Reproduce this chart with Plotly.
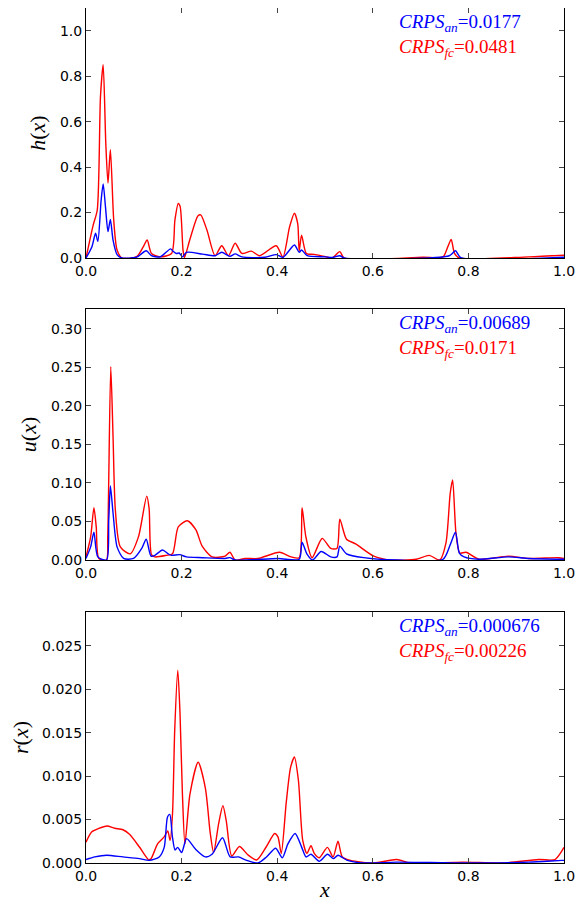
import plotly.graph_objects as go
from plotly.subplots import make_subplots

RED = "#ff0000"
BLUE = "#0000ff"

# ---- h(x) ----
h_fc_x = [0.0, 0.015, 0.0235, 0.0303, 0.0359, 0.0414, 0.046, 0.051, 0.058, 0.065, 0.075,
          0.106, 0.12, 0.128, 0.137, 0.155, 0.179, 0.186, 0.193, 0.197, 0.203, 0.206,
          0.217, 0.234, 0.24, 0.253, 0.27, 0.284, 0.298, 0.312, 0.326, 0.346, 0.363,
          0.398, 0.412, 0.426, 0.436, 0.443, 0.446, 0.451, 0.461, 0.477, 0.501, 0.515,
          0.531, 0.54, 0.705, 0.747, 0.757, 0.764, 0.771, 0.781, 0.926, 1.0]
h_fc_y = [0.0, 0.145, 0.21, 0.71, 0.85, 0.505, 0.33, 0.476, 0.167, 0.035, 0.0,
          0.006, 0.05, 0.079, 0.02, 0.005, 0.02, 0.167, 0.24, 0.226, 0.035, 0.002,
          0.079, 0.185, 0.19, 0.123, 0.01, 0.054, 0.01, 0.065, 0.02, 0.03, 0.01,
          0.054, 0.004, 0.138, 0.197, 0.15, 0.03, 0.10, 0.02, 0.016, 0.006, 0.0,
          0.028, 0.0, 0.003, 0.005, 0.05, 0.082, 0.02, 0.0, 0.005, 0.012]
h_an_x = [0.0, 0.0124, 0.02, 0.0248, 0.0317, 0.0359, 0.0407, 0.046, 0.051, 0.0566, 0.065,
          0.075, 0.106, 0.126, 0.137, 0.155, 0.177, 0.182, 0.189, 0.195, 0.202, 0.21,
          0.244, 0.27, 0.284, 0.301, 0.312, 0.326, 0.374, 0.398, 0.412, 0.436, 0.446,
          0.451, 0.463, 0.501, 0.515, 0.531, 0.54, 0.76, 0.773, 0.784, 1.0]
h_an_y = [0.0, 0.05, 0.109, 0.073, 0.255, 0.326, 0.226, 0.116, 0.17, 0.079, 0.015,
          0.0, 0.004, 0.032, 0.01, 0.005, 0.04, 0.03, 0.02, 0.022, 0.005, 0.025,
          0.017, 0.01, 0.025, 0.007, 0.018, 0.005, 0.003, 0.015, 0.003, 0.057, 0.025,
          0.035, 0.01, 0.005, 0.002, 0.01, 0.0, 0.01, 0.032, 0.002, 0.003]

# ---- u(x) ----
u_fc_x = [0.0, 0.0097, 0.0166, 0.0214, 0.0269, 0.0428, 0.0455, 0.0518, 0.0566, 0.0614,
          0.0718, 0.0925, 0.1097, 0.127, 0.132, 0.137, 0.144, 0.168, 0.181, 0.193,
          0.212, 0.23, 0.243, 0.264, 0.291, 0.301, 0.312, 0.333, 0.36, 0.405, 0.429,
          0.446, 0.452, 0.46, 0.473, 0.494, 0.512, 0.525, 0.531, 0.545, 0.564, 0.602,
          0.636, 0.691, 0.718, 0.74, 0.753, 0.762, 0.767, 0.774, 0.782, 0.795, 0.822,
          0.884, 0.926, 0.988, 1.0]
u_fc_y = [0.004, 0.03, 0.068, 0.043, 0.002, 0.0, 0.03, 0.251, 0.16, 0.065,
          0.017, 0.008, 0.03, 0.083, 0.067, 0.007, 0.004, 0.006, 0.008, 0.043,
          0.051, 0.039, 0.018, 0.004, 0.005, 0.01, 0.0, 0.002, 0.002, 0.01, 0.004,
          0.003, 0.068, 0.03, 0.003, 0.028, 0.015, 0.015, 0.053, 0.027, 0.021, 0.005,
          0.0, 0.001, 0.006, 0.0, 0.022, 0.087, 0.104, 0.035, 0.009, 0.01, 0.001,
          0.005, 0.002, 0.003, 0.002]
u_an_x = [0.0, 0.0097, 0.0166, 0.0248, 0.043, 0.0476, 0.051, 0.0566, 0.065, 0.0786,
          0.0994, 0.1166, 0.126, 0.136, 0.144, 0.16, 0.172, 0.179, 0.196, 0.21, 0.244,
          0.291, 0.301, 0.312, 0.402, 0.446, 0.452, 0.462, 0.474, 0.492, 0.512, 0.525,
          0.531, 0.545, 0.581, 0.65, 0.747, 0.762, 0.773, 0.781, 0.791, 0.822, 0.884,
          0.926, 1.0]
u_an_y = [0.002, 0.017, 0.036, 0.004, 0.0, 0.052, 0.096, 0.061, 0.017, 0.002,
          0.002, 0.015, 0.027, 0.005, 0.006, 0.013, 0.008, 0.006, 0.007, 0.004, 0.003,
          0.002, 0.003, 0.0, 0.002, 0.001, 0.023, 0.008, 0.0, 0.011, 0.004, 0.004,
          0.018, 0.008, 0.003, 0.0, 0.001, 0.02, 0.036, 0.009, 0.004, 0.001, 0.004,
          0.002, 0.001]

# ---- r(x) ----
r_fc_x = [0.0, 0.0117, 0.0255, 0.044, 0.06, 0.0773, 0.091, 0.1118, 0.131, 0.136, 0.1498,
          0.1636, 0.171, 0.176, 0.181, 0.1856, 0.192, 0.1967, 0.2015, 0.207, 0.2174,
          0.2346, 0.2498, 0.26, 0.267, 0.2774, 0.2864, 0.2933, 0.305, 0.3209, 0.3395,
          0.357, 0.3775, 0.3947, 0.4016, 0.4085, 0.419, 0.428, 0.436, 0.4444, 0.4534,
          0.4622, 0.4706, 0.4775, 0.4878, 0.5051, 0.5169, 0.5272, 0.5362, 0.5535, 0.6017,
          0.65, 0.678, 0.788, 0.871, 0.947, 0.981, 1.0]
r_fc_y = [0.0024, 0.00357, 0.00395, 0.00426, 0.0040, 0.00383, 0.0033, 0.00184, 0.00038,
          0.00049, 0.0022, 0.0030, 0.0037, 0.0026, 0.0057, 0.0153, 0.0222, 0.0172, 0.0083,
          0.0022, 0.0079, 0.0116, 0.0086, 0.0034, 0.0012, 0.0045, 0.0066, 0.0049, 0.0008,
          0.0019, 0.0009, 0.00035, 0.0019, 0.0034, 0.0030, 0.0011, 0.0070, 0.0110, 0.0122,
          0.0095, 0.0026, 0.0011, 0.0020, 0.0011, 0.0006, 0.0018, 0.0007, 0.0025, 0.0007,
          0.0003, 0.0, 0.0004, 0.0, 0.0001, 0.0, 0.0004, 0.0004, 0.0018]
r_an_x = [0.0, 0.0186, 0.0428, 0.0773, 0.1118, 0.1325, 0.1532, 0.1636, 0.1705, 0.1753,
          0.1808, 0.1863, 0.1918, 0.2001, 0.2105, 0.229, 0.2498, 0.2636, 0.2857, 0.3016,
          0.3188, 0.3361, 0.36, 0.3775, 0.3968, 0.4106, 0.4224, 0.4375, 0.4513, 0.4603,
          0.4706, 0.4878, 0.5051, 0.5176, 0.5272, 0.5466, 0.5811, 0.65, 0.788, 0.926,
          0.995, 1.0]
r_an_y = [0.0004, 0.0007, 0.0009, 0.0007, 0.0005, 0.0003, 0.0007, 0.0018, 0.0053, 0.0056,
          0.0030, 0.0015, 0.0018, 0.0012, 0.0028, 0.0016, 0.0007, 0.0010, 0.0029, 0.0007,
          0.0007, 0.0003, 0.0, 0.0007, 0.0017, 0.0006, 0.0022, 0.0034, 0.0018, 0.0007,
          0.0010, 0.0002, 0.0010, 0.0005, 0.0009, 0.0003, 0.0, 0.0001, 0.0, 0.0001,
          0.0003, 0.0003]

panels = [
    ("h", h_an_x, h_an_y, h_fc_x, h_fc_y, 1.1, 0.2, ".1f", "0.0177", "0.0481"),
    ("u", u_an_x, u_an_y, u_fc_x, u_fc_y, 0.326, 0.05, ".2f", "0.00689", "0.0171"),
    ("r", r_an_x, r_an_y, r_fc_x, r_fc_y, 0.0289, 0.005, ".3f", "0.000676", "0.00226"),
]

fig = make_subplots(rows=3, cols=1)
domains = [[0.7076, 1.0], [0.3544, 0.648], [0.0, 0.2936]]
SERIF = "Liberation Serif"
SANS = "DejaVu Sans"

for i, (name, ax_, ay_, fx_, fy_, ymax, dtick, fmt, crps_an, crps_fc) in enumerate(panels):
    row = i + 1
    fig.add_trace(go.Scatter(x=fx_, y=fy_, mode="lines", line=dict(color=RED, width=1.4, shape="spline", smoothing=0.7),
                             showlegend=False), row=row, col=1)
    fig.add_trace(go.Scatter(x=ax_, y=ay_, mode="lines", line=dict(color=BLUE, width=1.4, shape="spline", smoothing=0.7),
                             showlegend=False), row=row, col=1)
    fig.update_xaxes(range=[0, 1], dtick=0.2, tickformat=".1f", ticks="inside", ticklen=5,
                     showline=True, linecolor="black", linewidth=1, mirror="ticks", automargin=False,
                     showgrid=False, zeroline=False, tickfont=dict(family=SANS, size=14, color="black"),
                     row=row, col=1)
    fig.update_yaxes(range=[0, ymax], dtick=dtick, tickformat=fmt, ticks="inside", ticklen=5,
                     showline=True, linecolor="black", linewidth=1, mirror="ticks", automargin=False,
                     showgrid=False, zeroline=False, tickfont=dict(family=SANS, size=14, color="black"),
                     domain=domains[i],
                     title=dict(text=f"<i>{name}</i>(<i>x</i>)", font=dict(family=SERIF, size=22, color="black"),
                                standoff=8),
                     row=row, col=1)
    xref = "x domain" if row == 1 else f"x{row} domain"
    yref = "y domain" if row == 1 else f"y{row} domain"
    fig.add_annotation(x=0.65, y=1 - 1 / 251, xref=xref, yref=yref, xanchor="left", yanchor="top",
                       showarrow=False, align="left",
                       text=(f"<span style='color:{BLUE}'><i>CRPS</i><sub><i>an</i></sub>={crps_an}</span><br>"
                             f"<span style='color:{RED}'><i>CRPS</i><sub><i>fc</i></sub>={crps_fc}</span>"),
                       font=dict(family=SERIF, size=19, color=BLUE))

fig.update_xaxes(title=dict(text="<i>x</i>", font=dict(family=SERIF, size=22, color="black"), standoff=8),
                 row=3, col=1)

# the page adds an 8px body margin, so the figure is 16px smaller than the window;
# a slightly wider right margin keeps the "1.0" tick labels inside the figure
fig.update_layout(
    width=568, height=894,
    margin=dict(l=78, r=12, t=0, b=39),
    plot_bgcolor="white", paper_bgcolor="white",
    showlegend=False,
)

fig.write_html("out.html")
